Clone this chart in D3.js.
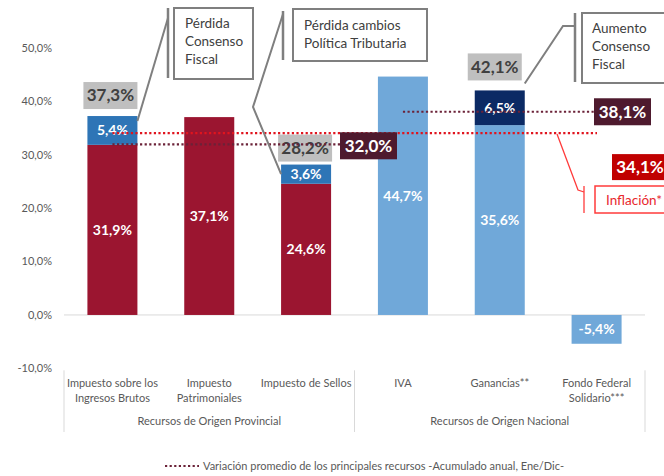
<!DOCTYPE html>
<html>
<head>
<meta charset="utf-8">
<script src="https://cdn.jsdelivr.net/npm/d3@7"></script>
<style>
  body { margin: 0; background: #fff; }
  svg { display: block; font-family: Lato, "Open Sans", sans-serif; }
</style>
</head>
<body>
<svg></svg>
<script>
// data
var categories = ["Impuesto sobre los|Ingresos Brutos", "Impuesto|Patrimoniales", "Impuesto de Sellos", "IVA", "Ganancias**", "Fondo Federal|Solidario***"];
var groups = ["Recursos de Origen Provincial", "Recursos de Origen Nacional"];
var baseValues = [31.9, 37.1, 24.6, 44.7, 35.6, -5.4];
var extraValues = [5.4, 0, 3.6, 0, 6.5, 0];
var totalValues = [37.3, null, 28.2, null, 42.1, null];
var groupAverages = [32.0, 38.1];
var inflation = 34.1;
var yTicks = [-10, 0, 10, 20, 30, 40, 50];
var legendText = "Variación promedio de los principales recursos -Acumulado anual, Ene/Dic-";

var w = 664, h = 476;
var red = "#9b1530", lblue = "#70a8d9", blue = "#2e75b6", navy = "#0b2a64", maroon = "#4e1a2e";
var baseColors = [red, red, red, lblue, lblue, lblue];
var extraColors = [blue, null, blue, null, navy, null];

var fmt = function(v){ return d3.format(".1f")(v).replace(".", ",").replace("\u2212", "-") + "%"; };

var svg = d3.select("svg").attr("width", w).attr("height", h);

var x = d3.scaleBand()
  .domain(d3.range(categories.length))
  .range([64, 645])
  .paddingInner(0.4836)
  .paddingOuter(0.2418);
var y = d3.scaleLinear().domain([-10, 50]).range([368.3, 48.3]);

// y axis labels
svg.selectAll(".ytick")
  .data(yTicks)
  .join("text")
  .attr("x", 52)
  .attr("y", function(d){ return y(d); })
  .attr("dy", "0.35em")
  .attr("text-anchor", "end")
  .attr("font-size", 11)
  .attr("fill", "#595959")
  .text(function(d){ return fmt(d); });

// zero line
svg.append("line")
  .attr("x1", x.range()[0]).attr("x2", x.range()[1])
  .attr("y1", y(0)).attr("y2", y(0))
  .attr("stroke", "#d9d9d9").attr("stroke-width", 1);

// group separators
var step = x.step();
var bounds = [0, 3, 6];
svg.selectAll(".sep")
  .data(bounds)
  .join("line")
  .attr("x1", function(d){ return x.range()[0] + d * step; })
  .attr("x2", function(d){ return x.range()[0] + d * step; })
  .attr("y1", y(-10) + 2).attr("y2", 432)
  .attr("stroke", "#d9d9d9").attr("stroke-width", 1);

// category labels
var catG = svg.selectAll(".cat")
  .data(categories)
  .join("text")
  .attr("text-anchor", "middle")
  .attr("font-size", 11)
  .attr("fill", "#595959")
  .attr("transform", function(d, i){ return "translate(" + (x(i) + x.bandwidth()/2) + ",387)"; });
catG.selectAll("tspan")
  .data(function(d){ return d.split("|"); })
  .join("tspan")
  .attr("x", 0)
  .attr("dy", function(d, i){ return i ? 15 : 0; })
  .text(function(d){ return d; });

svg.selectAll(".grp")
  .data(groups)
  .join("text")
  .attr("x", function(d, i){ return x.range()[0] + (i * 3 + 1.5) * step; })
  .attr("y", 425)
  .attr("text-anchor", "middle")
  .attr("font-size", 11)
  .attr("fill", "#595959")
  .text(function(d){ return d; });

// bars
var bars = svg.selectAll(".bar")
  .data(baseValues)
  .join("g")
  .attr("transform", function(d, i){ return "translate(" + x(i) + ",0)"; });

bars.append("rect")
  .attr("y", function(d){ return y(Math.max(0, d)); })
  .attr("width", x.bandwidth())
  .attr("height", function(d){ return Math.abs(y(d) - y(0)); })
  .attr("fill", function(d, i){ return baseColors[i]; });

bars.filter(function(d, i){ return extraValues[i] > 0; })
  .append("rect")
  .attr("y", function(d){ var k = baseValues.indexOf(d); return y(d + extraValues[k]); })
  .attr("width", x.bandwidth())
  .attr("height", function(d){ var k = baseValues.indexOf(d); return y(d) - y(d + extraValues[k]); })
  .attr("fill", function(d){ return extraColors[baseValues.indexOf(d)]; });

// bar labels
bars.append("text")
  .attr("x", x.bandwidth()/2)
  .attr("y", function(d){ return (y(d) + y(0)) / 2; })
  .attr("dy", "0.35em")
  .attr("text-anchor", "middle")
  .attr("font-size", 14)
  .attr("font-weight", "bold")
  .attr("fill", "#fff")
  .text(function(d){ return fmt(d); });

bars.filter(function(d, i){ return extraValues[i] > 0; })
  .append("text")
  .attr("x", x.bandwidth()/2)
  .attr("y", function(d){ var k = baseValues.indexOf(d); return (y(d) + y(d + extraValues[k])) / 2; })
  .attr("dy", "0.35em")
  .attr("text-anchor", "middle")
  .attr("font-size", 14)
  .attr("font-weight", "bold")
  .attr("fill", "#fff")
  .text(function(d){ return fmt(extraValues[baseValues.indexOf(d)]); });

// total boxes
var totalGap = {0: 7, 2: 3, 4: 10};
var totalShift = {0: -2, 2: -1, 4: -5};
totalValues.forEach(function(v, i){
  if (v === null) return;
  var cx = x(i) + x.bandwidth()/2 + totalShift[i];
  var by = y(v) - totalGap[i];
  svg.append("rect")
    .attr("x", cx - 27).attr("y", by - 27)
    .attr("width", 54).attr("height", 27)
    .attr("fill", "#bfbfbf");
  svg.append("text")
    .attr("x", cx).attr("y", by - 13.5)
    .attr("dy", "0.35em")
    .attr("text-anchor", "middle")
    .attr("font-size", 17)
    .attr("font-weight", "bold")
    .attr("fill", "#404040")
    .text(fmt(v));
});

// dotted reference lines
var dots = "2.2 2.4";
svg.append("line")
  .attr("x1", x(0) + x.bandwidth()/2).attr("x2", 597)
  .attr("y1", y(inflation)).attr("y2", y(inflation))
  .attr("stroke", "#e0141e").attr("stroke-width", 2.2).attr("stroke-dasharray", dots);

var avgEnds = [340, 594];
groupAverages.forEach(function(v, g){
  var x1 = x(g * 3) + x.bandwidth()/2;
  svg.append("line")
    .attr("x1", x1).attr("x2", avgEnds[g])
    .attr("y1", y(v)).attr("y2", y(v))
    .attr("stroke", "#6b2238").attr("stroke-width", 2.2).attr("stroke-dasharray", dots);
  svg.append("rect")
    .attr("x", avgEnds[g]).attr("y", y(v) - 13.5 + (g ? 0 : 1.5))
    .attr("width", 57).attr("height", 27)
    .attr("fill", maroon);
  svg.append("text")
    .attr("x", avgEnds[g] + 28.5).attr("y", y(v) + (g ? 0 : 1.5))
    .attr("dy", "0.35em")
    .attr("text-anchor", "middle")
    .attr("font-size", 17).attr("font-weight", "bold")
    .attr("fill", "#fff")
    .text(fmt(v));
});

// inflation label
svg.append("rect")
  .attr("x", 612).attr("y", y(inflation) + 21)
  .attr("width", 56).attr("height", 26)
  .attr("fill", "#c00000");
svg.append("text")
  .attr("x", 640).attr("y", y(inflation) + 34)
  .attr("dy", "0.35em").attr("text-anchor", "middle")
  .attr("font-size", 17).attr("font-weight", "bold")
  .attr("fill", "#fff")
  .text(fmt(inflation));

svg.append("rect")
  .attr("x", 595).attr("y", 186)
  .attr("width", 76).attr("height", 27)
  .attr("fill", "#fff").attr("stroke", "#ff3b3b").attr("stroke-width", 1.5);
svg.append("text")
  .attr("x", 606).attr("y", 200)
  .attr("dy", "0.35em")
  .attr("font-size", 13.5)
  .attr("fill", "#e8282e")
  .text("Inflación*");
svg.append("polyline")
  .attr("points", [[557, y(inflation) + 1], [578, 190], [584, 192]].join(" "))
  .attr("fill", "none").attr("stroke", "#ff3b3b").attr("stroke-width", 1.3);
svg.append("line")
  .attr("x1", 584).attr("x2", 584).attr("y1", 186).attr("y2", 213)
  .attr("stroke", "#ff3b3b").attr("stroke-width", 1.3);

// callouts
var callouts = [
  {lines: ["Pérdida", "Consenso", "Fiscal"], box: [174, 8, 79, 71], bracket: [168, 8, 78], tx: 185, ty: 23,
   leader: [[168, 18], [x(0) + x.bandwidth(), y(37.3) + 5]]},
  {lines: ["Pérdida cambios", "Política Tributaria"], box: [293, 9, 134, 52], bracket: [283, 11, 60], tx: 304, ty: 25,
   leader: [[283, 14], [253, 107], [x(2), y(26.4)]]},
  {lines: ["Aumento", "Consenso", "Fiscal"], box: [582, 13, 84, 70], bracket: [575, 13, 82], tx: 592, ty: 28,
   leader: [[575, 26], [563, 26], [x(4) + x.bandwidth(), y(42.1) - 7]]}
];
callouts.forEach(function(c){
  svg.append("polyline")
    .attr("points", c.leader.join(" "))
    .attr("fill", "none").attr("stroke", "#7f7f7f").attr("stroke-width", 2);
  svg.append("line")
    .attr("x1", c.bracket[0]).attr("x2", c.bracket[0])
    .attr("y1", c.bracket[1]).attr("y2", c.bracket[2])
    .attr("stroke", "#7f7f7f").attr("stroke-width", 2.5);
  svg.append("rect")
    .attr("x", c.box[0]).attr("y", c.box[1])
    .attr("width", c.box[2]).attr("height", c.box[3])
    .attr("fill", "#fff").attr("stroke", "#7f7f7f").attr("stroke-width", 2);
  svg.append("text")
    .attr("font-size", 13.5)
    .attr("fill", "#404040")
    .selectAll("tspan")
    .data(c.lines)
    .join("tspan")
    .attr("x", c.tx)
    .attr("y", function(d, i){ return c.ty + i * 18.3; })
    .attr("dy", "0.35em")
    .text(function(d){ return d; });
});

// legend
svg.append("line")
  .attr("x1", 165).attr("x2", 199)
  .attr("y1", 466).attr("y2", 466)
  .attr("stroke", "#6b2238").attr("stroke-width", 2.2).attr("stroke-dasharray", dots);
svg.append("text")
  .attr("x", 203).attr("y", 466)
  .attr("dy", "0.35em")
  .attr("font-size", 11)
  .attr("fill", "#595959")
  .text(legendText);
</script>
</body>
</html>
